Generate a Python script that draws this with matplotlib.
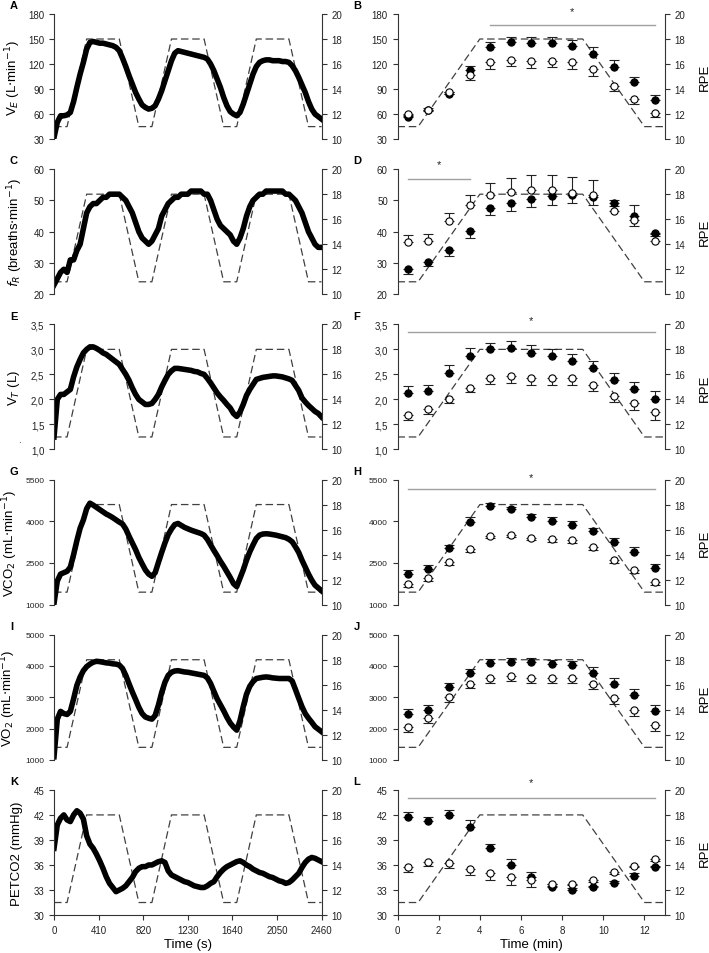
import matplotlib
matplotlib.use("Agg")
import matplotlib.pyplot as plt
from matplotlib.ticker import FuncFormatter

plt.rcParams['font.family'] = ['Liberation Sans', 'DejaVu Sans']

# ---- continuous recordings (one value every 30 s) ----
time_s = list(range(0, 2461, 30))

ve = [32, 50, 58, 58, 59, 62, 75, 92, 108, 122,
      138, 146, 147, 146, 145, 145, 144, 143, 142, 140,
      136, 127, 117, 106, 96, 86, 78, 71, 68, 66,
      67, 70, 78, 88, 100, 112, 124, 133, 136, 135,
      134, 133, 132, 131, 130, 129, 128, 126, 120, 112,
      102, 92, 80, 70, 63, 60, 58, 62, 72, 84,
      96, 108, 117, 122, 124, 125, 125, 124, 124, 124,
      123, 123, 122, 118, 112, 104, 95, 86, 75, 66,
      60, 57, 54]
fr = [23, 25, 27, 28, 27, 31, 31, 34, 36, 41,
      46, 48, 49, 49, 50, 51, 51, 52, 52, 52,
      52, 51, 50, 48, 46, 43, 40, 38, 37, 36,
      37, 39, 41, 45, 47, 49, 50, 51, 51, 52,
      52, 52, 53, 53, 53, 53, 52, 52, 50, 47,
      44, 42, 41, 40, 39, 37, 36, 38, 41, 45,
      48, 50, 51, 52, 52, 53, 53, 53, 53, 53,
      53, 52, 52, 51, 50, 48, 46, 43, 40, 38,
      36, 35, 35]
vt = [1.25, 2.0, 2.1, 2.1, 2.15, 2.2, 2.45, 2.65, 2.8, 2.93,
      3.0, 3.05, 3.05, 3.02, 2.98, 2.93, 2.9, 2.85, 2.8, 2.75,
      2.7, 2.6, 2.5, 2.38, 2.23, 2.1, 2.0, 1.95, 1.9, 1.9,
      1.92, 2.0, 2.1, 2.25, 2.38, 2.5, 2.57, 2.62, 2.62, 2.61,
      2.6, 2.59, 2.58, 2.56, 2.55, 2.52, 2.5, 2.42, 2.33, 2.23,
      2.13, 2.05, 1.98, 1.9, 1.83, 1.72, 1.66, 1.75, 1.9, 2.08,
      2.2, 2.3, 2.4, 2.42, 2.44, 2.45, 2.46, 2.47, 2.47, 2.46,
      2.45, 2.43, 2.41, 2.38, 2.28, 2.18, 2.03, 1.95, 1.88, 1.82,
      1.76, 1.72, 1.65]
vco2 = [1050, 1850, 2100, 2150, 2200, 2350, 2800, 3300, 3750, 4050,
        4450, 4650, 4580, 4500, 4420, 4340, 4260, 4200, 4130, 4050,
        3970, 3900, 3720, 3460, 3220, 2980, 2700, 2470, 2250, 2100,
        2020, 2150, 2520, 2880, 3220, 3520, 3720, 3880, 3920, 3850,
        3780, 3730, 3680, 3640, 3600, 3560, 3500, 3350, 3150, 2950,
        2760, 2560, 2380, 2180, 1980, 1760, 1650, 1950, 2250, 2600,
        2900, 3150, 3380, 3500, 3540, 3550, 3540, 3520, 3500, 3470,
        3440, 3410, 3350, 3260, 3080, 2880, 2600, 2350, 2100, 1880,
        1700, 1600, 1500]
vo2 = [1100, 2300, 2550, 2480, 2450, 2550, 2950, 3380, 3650, 3850,
       3980, 4060, 4120, 4150, 4140, 4120, 4100, 4090, 4070, 4060,
       4030, 3920, 3700, 3430, 3170, 2930, 2680, 2480, 2370, 2330,
       2300, 2420, 2750, 3150, 3480, 3700, 3800, 3840, 3850, 3830,
       3810, 3800, 3780, 3760, 3740, 3720, 3700, 3620, 3440, 3190,
       2950, 2760, 2570, 2360, 2180, 2050, 1950, 2250, 2700, 3100,
       3350, 3500, 3600, 3620, 3640, 3650, 3640, 3620, 3610, 3600,
       3600, 3600, 3600, 3520, 3250, 2970, 2700, 2480, 2330, 2200,
       2060, 1980, 1900]
petco2 = [38.0, 40.8, 41.6, 42.0, 41.4, 41.2, 42.0, 42.5, 42.2, 41.5,
          39.5, 38.5, 38.0, 37.3, 36.5, 35.6, 34.6, 33.8, 33.3, 32.8,
          33.0, 33.2, 33.5, 34.0, 34.5, 35.2, 35.6, 35.8, 35.8, 36.0,
          36.0, 36.2, 36.4, 36.5, 36.3, 35.3, 34.8, 34.6, 34.4, 34.2,
          34.0, 33.9, 33.7, 33.5, 33.4, 33.3, 33.3, 33.5, 33.8, 34.0,
          34.6, 35.1, 35.5, 35.8, 36.0, 36.2, 36.4, 36.5, 36.3, 36.0,
          35.8, 35.5, 35.3, 35.1, 35.0, 34.8, 34.6, 34.5, 34.3, 34.1,
          34.0, 33.8, 33.9, 34.2, 34.6, 35.0, 35.7, 36.3, 36.7, 36.9,
          36.8, 36.6, 36.4]

# RPE profile
rpe_s = [0, 120, 300, 600, 780, 900, 1080, 1380, 1560, 1680, 1860, 2160, 2340, 2460]
rpe_s_val = [11, 11, 18, 18, 11, 11, 18, 18, 11, 11, 18, 18, 11, 11]
rpe_min = [0, 1, 4, 9, 12, 13]
rpe_min_val = [11, 11, 18, 18, 11, 11]

# ---- minute means (filled / open) with SEM ----
stage_min = [0.5, 1.5, 2.5, 3.5, 4.5, 5.5, 6.5, 7.5, 8.5, 9.5, 10.5, 11.5, 12.5]

ve_fill = [57, 65, 84, 113, 140, 146, 145, 145, 142, 132, 116.5, 98, 77]
ve_fill_err = [2, 2, 3, 5, 7, 7, 7, 7, 7, 8, 8, 7, 5.5]
ve_open = [60, 65.5, 87, 107.4, 122.5, 125, 123.6, 124, 122.5, 114, 93.5, 78, 61]
ve_open_err = [2, 2, 3, 7, 9, 7, 8, 8, 8.5, 8, 6, 6, 5]

fr_fill = [28.1, 30.4, 34.1, 40.3, 47.5, 49.2, 50.5, 51.4, 51.8, 51.0, 49.2, 45.0, 39.6]
fr_fill_err = [1.5, 1.3, 1.8, 2.3, 2.2, 2.5, 2.7, 2.7, 2.5, 2.5, 1.0, 3.3, 1.0]
fr_open = [36.7, 37.0, 43.5, 48.6, 51.8, 52.6, 53.2, 53.2, 52.4, 51.6, 46.5, 43.6, 37.0]
fr_open_err = [2.3, 2.3, 2.6, 3.2, 3.8, 4.6, 5.0, 5.0, 5.2, 4.9, 3.6, 5.0, 2.2]

vt_fill = [2.13, 2.16, 2.53, 2.87, 3.0, 3.03, 2.93, 2.87, 2.77, 2.63, 2.39, 2.2, 2.01]
vt_fill_err = [0.13, 0.13, 0.16, 0.16, 0.13, 0.14, 0.16, 0.14, 0.13, 0.14, 0.14, 0.14, 0.15]
vt_open = [1.69, 1.81, 2.01, 2.23, 2.43, 2.47, 2.43, 2.43, 2.43, 2.29, 2.07, 1.93, 1.75]
vt_open_err = [0.11, 0.10, 0.08, 0.09, 0.13, 0.14, 0.15, 0.14, 0.14, 0.13, 0.12, 0.15, 0.16]

vco2_fill = [2100, 2300, 3030, 3970, 4560, 4440, 4170, 4020, 3880, 3640, 3270, 2880, 2330]
vco2_fill_err = [140, 130, 130, 170, 100, 80, 100, 120, 120, 130, 130, 180, 150]
vco2_open = [1750, 1950, 2520, 3000, 3470, 3500, 3400, 3360, 3310, 3060, 2620, 2260, 1820]
vco2_open_err = [120, 110, 100, 100, 90, 80, 90, 100, 90, 110, 120, 130, 110]

vo2_fill = [2470, 2600, 3320, 3790, 4100, 4130, 4120, 4075, 4020, 3790, 3410, 3065, 2560]
vo2_fill_err = [150, 150, 130, 120, 115, 130, 130, 125, 140, 180, 210, 205, 190]
vo2_open = [2055, 2335, 3000, 3410, 3610, 3670, 3610, 3610, 3610, 3430, 2980, 2590, 2110]
vo2_open_err = [175, 165, 160, 120, 160, 140, 150, 140, 140, 160, 195, 180, 195]

pet_fill = [41.7, 41.25, 42.0, 40.6, 38.0, 36.0, 34.55, 33.4, 33.0, 33.3, 33.8, 34.7, 35.7]
pet_fill_err = [0.6, 0.5, 0.55, 0.8, 0.5, 0.7, 0.65, 0.3, 0.2, 0.2, 0.3, 0.3, 0.2]
pet_open = [35.75, 36.4, 36.2, 35.55, 35.0, 34.5, 34.2, 33.75, 33.75, 34.2, 35.2, 35.9, 36.7]
pet_open_err = [0.55, 0.5, 0.6, 0.75, 0.8, 0.9, 0.9, 0.3, 0.2, 0.2, 0.3, 0.2, 0.2]

DARK = '#333333'
DASH = '#404040'


def style_axes(ax, ax2, bottom, ylim, yticks, fs):
    ax.set_ylim(*ylim)
    ax.set_yticks(yticks)
    ax2.set_ylim(10, 20)
    ax2.set_yticks([10, 12, 14, 16, 18, 20])
    for a in (ax, ax2):
        for s in ('top', 'bottom', 'left', 'right'):
            a.spines[s].set_visible(False)
        a.tick_params(direction='out', length=3.5, width=0.8, colors=DARK,
                      labelsize=7, labelcolor='#222222')
    ax.spines['left'].set_visible(True)
    ax2.spines['right'].set_visible(True)
    ax.spines['left'].set_color(DARK)
    ax2.spines['right'].set_color(DARK)
    ax.tick_params(axis='y', labelsize=fs)
    if bottom:
        ax.spines['bottom'].set_visible(True)
        ax.spines['bottom'].set_color(DARK)
    else:
        ax.tick_params(axis='x', bottom=False, labelbottom=False)
    ax2.tick_params(axis='x', bottom=False, labelbottom=False)
    ax.set_zorder(ax2.get_zorder() + 1)
    ax.patch.set_visible(False)


rows = [
    ('A', 'B', r'V$_E$ (L$\cdot$min$^{-1}$)', -0.115, ve, ve_fill, ve_fill_err, ve_open, ve_open_err,
     (30, 180), [30, 60, 90, 120, 150, 180], 7, (1, -1), (4.5, 12.5, 167, 183)),
    ('C', 'D', r'$f_R$ (breaths$\cdot$min$^{-1}$)', -0.11, fr, fr_fill, fr_fill_err, fr_open, fr_open_err,
     (20, 60), [20, 30, 40, 50, 60], 7, (-1, 1), (0.5, 3.5, 57, 61.5)),
    ('E', 'F', r'V$_T$ (L)', -0.12, vt, vt_fill, vt_fill_err, vt_open, vt_open_err,
     (1.0, 3.5), [1.0, 1.5, 2.0, 2.5, 3.0, 3.5], 7, (1, -1), (0.5, 12.5, 3.34, 3.58)),
    ('G', 'H', r'VCO$_2$ (mL$\cdot$min$^{-1}$)', -0.127, vco2, vco2_fill, vco2_fill_err, vco2_open, vco2_open_err,
     (1000, 5500), [1000, 2500, 4000, 5500], 6, (1, -1), (0.5, 12.5, 5150, 5600)),
    ('I', 'J', r'VO$_2$ (mL$\cdot$min$^{-1}$)', -0.135, vo2, vo2_fill, vo2_fill_err, vo2_open, vo2_open_err,
     (1000, 5000), [1000, 2000, 3000, 4000, 5000], 6, (1, -1), None),
    ('K', 'L', 'PETCO2 (mmHg)', -0.115, petco2, pet_fill, pet_fill_err, pet_open, pet_open_err,
     (30, 45), [30, 33, 36, 39, 42, 45], 7, (1, -1), (0.5, 12.5, 44.0, 45.9)),
]

fig = plt.figure(figsize=(7.09, 9.54), dpi=100)
gs = fig.add_gridspec(6, 2, left=0.0762, right=0.938, top=0.9843, bottom=0.0398,
                      hspace=0.24, wspace=0.284)

comma = FuncFormatter(lambda v, p: '{:.1f}'.format(v).replace('.', ','))

for i, (la, lb, ylab, labx, series, mf, mfe, mo, moe, ylim, yticks, fs, dirs, sig) in enumerate(rows):
    bottom = (i == 5)

    # left: continuous data
    ax = fig.add_subplot(gs[i, 0])
    ax2 = ax.twinx()
    ax2.plot(rpe_s, rpe_s_val, color=DASH, lw=0.9, ls=(0, (6, 3)))
    ax.plot(time_s, series, color='black', lw=4.0, solid_joinstyle='round')
    ax.set_xlim(0, 2460)
    style_axes(ax, ax2, bottom, ylim, yticks, fs)
    if i == 2:
        ax.yaxis.set_major_formatter(comma)
    ax.set_ylabel(ylab, fontsize=9.5)
    ax.yaxis.set_label_coords(labx, 0.5)
    ax.text(-0.165, 1.07, la, transform=ax.transAxes, fontsize=8, fontweight='bold',
            va='center', ha='left')
    if bottom:
        ax.set_xticks([0, 410, 820, 1230, 1640, 2050, 2460])
        ax.set_xlabel('Time (s)', fontsize=9.5, labelpad=2)

    # right: minute means
    bx = fig.add_subplot(gs[i, 1])
    bx2 = bx.twinx()
    bx2.plot(rpe_min, rpe_min_val, color=DASH, lw=0.9, ls=(0, (6, 3)))
    zeros = [0] * len(stage_min)
    # yerr = [lower, upper]; one-sided bars
    yerr_f = [mfe, zeros] if dirs[0] < 0 else [zeros, mfe]
    yerr_o = [moe, zeros] if dirs[1] < 0 else [zeros, moe]
    bx.errorbar(stage_min, mf, yerr=yerr_f, fmt='none', ecolor='#222222',
                elinewidth=0.8, capsize=3.5, capthick=0.8, zorder=2)
    bx.errorbar(stage_min, mo, yerr=yerr_o, fmt='none', ecolor='#222222',
                elinewidth=0.8, capsize=3.5, capthick=0.8, zorder=2)
    bx.plot(stage_min, mf, 'o', ms=5.2, mfc='black', mec='black', mew=0.8, zorder=3)
    bx.plot(stage_min, mo, 'o', ms=5.2, mfc='white', mec='black', mew=0.8, zorder=4)
    bx.set_xlim(0, 13)
    style_axes(bx, bx2, bottom, ylim, yticks, fs)
    if i == 2:
        bx.yaxis.set_major_formatter(comma)
    bx2.set_ylabel('RPE', fontsize=9.5)
    bx2.yaxis.set_label_coords(1.125, 0.5)
    bx.text(-0.165, 1.07, lb, transform=bx.transAxes, fontsize=8, fontweight='bold',
            va='center', ha='left')
    if sig is not None:
        x0, x1, yl, ys = sig
        bx.plot([x0, x1], [yl, yl], color='#a0a0a0', lw=1.0, zorder=1)
        bx.text((x0 + x1) / 2, ys, '*', ha='center', va='center', fontsize=8,
                color='#222222', clip_on=False)
    if bottom:
        bx.set_xticks([0, 2, 4, 6, 8, 10, 12])
        bx.set_xlabel('Time (min)', fontsize=9.5, labelpad=2)

fig.text(18 / 709, 1 - 443 / 954, '.', fontsize=7, color='#222222')

fig.savefig('out.png', dpi=100)
